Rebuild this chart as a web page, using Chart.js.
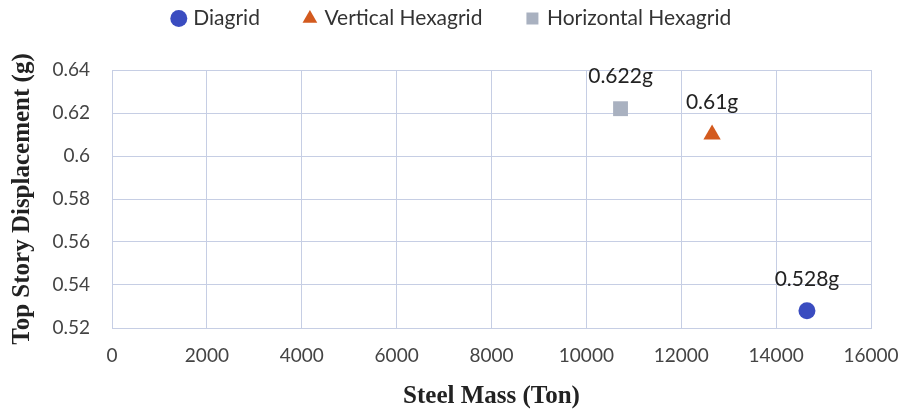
<!DOCTYPE html>
<html>
<head>
<meta charset="utf-8">
<script src="https://cdn.jsdelivr.net/npm/chart.js@4.4.0/dist/chart.umd.min.js"></script>
<style>
  html, body { margin: 0; padding: 0; background: #fff; }
  #wrap { width: 906px; height: 415px; position: relative; }
</style>
</head>
<body>
<div id="wrap"><canvas id="chart"></canvas></div>
<script>
// values
const seriesNames = ["Diagrid", "Vertical Hexagrid", "Horizontal Hexagrid"];
const steelMass = [14650, 12650, 10720];
const displacement = [0.528, 0.61, 0.622];
const pointLabels = ["0.528g", "0.61g", "0.622g"];

const xTicks = [0, 2000, 4000, 6000, 8000, 10000, 12000, 14000, 16000];
const yTicks = [0.52, 0.54, 0.56, 0.58, 0.6, 0.62, 0.64];

const colors = ["#3a4cc0", "#d35a1e", "#a9b1c0"];
const shapes = ["circle", "triangle", "rect"];
const radii = [8.5, 10, 10.5];

const tickFont = { family: "Lato, 'Open Sans', sans-serif", size: 19 };
const legendFont = { family: "Lato, 'Open Sans', sans-serif", size: 21 };
const titleFont = { family: "'Liberation Serif', serif", size: 25, weight: "bold" };
const gridColor = "#c6cee4";

// writes the value label just above each point
const valueLabels = {
  id: "valueLabels",
  afterDatasetsDraw(chart) {
    const ctx = chart.ctx;
    ctx.save();
    ctx.font = "21px Lato, 'Open Sans', sans-serif";
    ctx.fillStyle = "#222";
    ctx.textAlign = "center";
    ctx.textBaseline = "middle";
    chart.data.datasets.forEach((ds, i) => {
      const pt = chart.getDatasetMeta(i).data[0];
      ctx.fillText(ds.valueLabel, pt.x, pt.y - 32);
    });
    ctx.restore();
  }
};

// legend takes a fixed band on top, drawn higher than its wide padding would put it
const legendBand = {
  id: "legendBand",
  afterInit(chart) {
    const lg = chart.legend;
    const fit = lg.fit.bind(lg);
    const draw = lg.draw.bind(lg);
    lg.fit = function () { fit(); this.height = 70; };
    lg.draw = function () {
      chart.ctx.save();
      chart.ctx.translate(0, -38);
      draw();
      chart.ctx.restore();
    };
  }
};

const datasets = seriesNames.map((name, i) => ({
  label: name,
  data: [{ x: steelMass[i], y: displacement[i] }],
  valueLabel: pointLabels[i],
  pointStyle: shapes[i],
  pointRadius: radii[i],
  backgroundColor: colors[i],
  borderColor: colors[i],
  borderWidth: 0
}));

new Chart(document.getElementById("chart"), {
  type: "scatter",
  data: { datasets },
  options: {
    responsive: true,
    maintainAspectRatio: false,
    animation: false,
    layout: { padding: 0 },
    plugins: {
      legend: {
        position: "top",
        labels: {
          usePointStyle: true,
          font: legendFont,
          color: "#333",
          boxWidth: 8,
          boxHeight: 12,
          padding: 46
        }
      },
      tooltip: { enabled: false }
    },
    scales: {
      x: {
        type: "linear",
        min: xTicks[0],
        max: xTicks[xTicks.length - 1],
        afterBuildTicks: axis => { axis.ticks = xTicks.map(v => ({ value: v })); },
        afterFit: axis => { axis.height = 87; axis.paddingRight = 35; },
        ticks: { font: tickFont, color: "#444", callback: v => String(v), padding: 16 },
        grid: { color: gridColor, drawTicks: false },
        border: { color: gridColor },
        title: { display: true, text: "Steel Mass (Ton)", font: titleFont, color: "#222", padding: { top: 0, bottom: 3 } }
      },
      y: {
        type: "linear",
        min: yTicks[0],
        max: yTicks[yTicks.length - 1],
        afterBuildTicks: axis => { axis.ticks = yTicks.map(v => ({ value: v })); },
        afterFit: axis => { axis.width = 112; },
        ticks: { font: tickFont, color: "#444", callback: v => String(+v.toFixed(2)), padding: 22 },
        grid: { color: gridColor, drawTicks: false },
        border: { color: gridColor },
        title: { display: true, text: "Top Story Displacement (g)", font: titleFont, color: "#222", padding: { top: 8, bottom: 0 } }
      }
    }
  },
  plugins: [valueLabels, legendBand]
});
</script>
</body>
</html>
